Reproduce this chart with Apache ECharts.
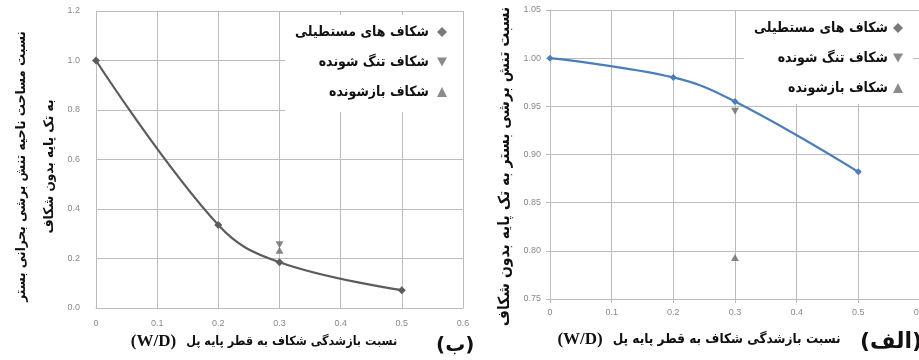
<!DOCTYPE html>
<html><head><meta charset="utf-8">
<script src="https://cdn.jsdelivr.net/npm/echarts@6/dist/echarts.min.js"></script>
<style>html,body{margin:0;padding:0;background:#fff}#c{width:919px;height:360px}</style>
</head><body><div id="c"></div><script>
// ---- data ----
const wdRatio = [0, 0.2, 0.3, 0.5];
const wdVariable = [0.3];
// left chart (ب): critical shear stress area ratio
const areaRect = [1.0, 0.335, 0.185, 0.072];
const areaNarrowing = [0.256];
const areaOpening = [0.233];
// right chart (الف): bed shear stress ratio
const stressRect = [1.0, 0.98, 0.955, 0.882];
const stressNarrowing = [0.945];
const stressOpening = [0.793];

const seriesNames = ['شکاف های مستطیلی', 'شکاف تنگ شونده', 'شکاف بازشونده'];
const xTicks = [0, 0.1, 0.2, 0.3, 0.4, 0.5, 0.6];
const yTicksLeft = [0, 0.2, 0.4, 0.6, 0.8, 1.0, 1.2];
const yTicksRight = [0.75, 0.80, 0.85, 0.90, 0.95, 1.00, 1.05];

const xNameLatin = '(W/D)';
const xNameFa = 'نسبت بازشدگی شکاف به قطر پایه پل';
const yNameLeft = 'نسبت مساحت ناحیه تنش برشی بحرانی بستر\nبه تک پایه بدون شکاف';
const yNameRight = 'نسبت تنش برشی بستر به تک پایه بدون شکاف';
const panelLeft = '(ب)';
const panelRight = '(الف)';

// ---- chart ----
const faFont = '"DejaVu Sans Condensed", "DejaVu Sans"';
const gridColor = '#bcbcbc';
const tickFont = {fontSize: 9, color: '#8a8a8a', fontFamily: 'Liberation Sans'};
const downTri = 'path://M0,0L10,0L5,9Z';
const zip = (xs, ys) => ys.map((y, i) => [xs[i], y]);

function xAxisCfg(gi, ticks, labelMargin, gap, shift, faSize) {
  return {
    type: 'value', gridIndex: gi, min: xTicks[0], max: xTicks[xTicks.length - 1], interval: 0.1,
    axisLine: {show: true, lineStyle: {color: gridColor}},
    axisTick: {show: ticks, length: 4, lineStyle: {color: gridColor}},
    splitLine: {show: true, lineStyle: {color: gridColor, width: 1}},
    axisLabel: Object.assign({margin: labelMargin, formatter: v => v === 0 ? '0' : v.toFixed(1)}, tickFont),
    name: '{lat|' + xNameLatin + '}   {fa|' + xNameFa + '}', nameLocation: 'middle', nameGap: gap,
    nameTextStyle: {
      color: '#111', padding: [0, shift, 0, 0],
      rich: {
        lat: {fontFamily: 'Liberation Serif', fontWeight: 'bold', fontSize: 17, color: '#111'},
        fa: {fontFamily: faFont, fontWeight: 'bold', fontSize: faSize, color: '#111'}
      }
    }
  };
}
function legendCfg(right, top, pad, textPad) {
  return {
    orient: 'vertical', align: 'right', right: right, top: top,
    backgroundColor: '#fff', padding: pad,
    itemWidth: 10, itemHeight: 10, itemGap: 12,
    textStyle: {fontFamily: faFont, fontWeight: 'bold', fontSize: 14, color: '#111', lineHeight: 18, padding: [0, textPad, 0, 0]},
    data: [
      {name: seriesNames[0], icon: 'diamond', itemStyle: {color: '#7a7a7a'}},
      {name: seriesNames[1], icon: downTri, itemStyle: {color: '#6e6e6e'}},
      {name: seriesNames[2], icon: 'triangle', itemStyle: {color: '#6e6e6e'}}
    ]
  };
}

const chart = echarts.init(document.getElementById('c'), null, {renderer: 'canvas'});
chart.setOption({
  backgroundColor: '#fff',
  animation: false,
  grid: [
    {left: 96, top: 11, width: 367, height: 297, outerBoundsMode: 'none', containLabel: false},
    {left: 550, top: 10, width: 370, height: 289, outerBoundsMode: 'none', containLabel: false}
  ],
  xAxis: [xAxisCfg(0, false, 11, 21, 31, 12.5), xAxisCfg(1, true, 9, 32, 72, 13.5)],
  yAxis: [
    {
      type: 'value', gridIndex: 0, min: yTicksLeft[0], max: yTicksLeft[yTicksLeft.length - 1], interval: 0.2,
      axisLine: {show: true, lineStyle: {color: gridColor}},
      axisTick: {show: false},
      splitLine: {show: true, lineStyle: {color: gridColor}},
      axisLabel: Object.assign({margin: 16, formatter: v => v.toFixed(1)}, tickFont),
      name: yNameLeft, nameLocation: 'middle', nameGap: 29,
      nameTextStyle: {fontFamily: faFont, fontWeight: 'bold', fontSize: 13.5, color: '#111', lineHeight: 28, padding: [0, 14, 0, 0]}
    },
    {
      type: 'value', gridIndex: 1, min: yTicksRight[0], max: yTicksRight[yTicksRight.length - 1], interval: 0.05,
      axisLine: {show: true, lineStyle: {color: gridColor}},
      axisTick: {show: true, length: 4, lineStyle: {color: gridColor}},
      splitLine: {show: true, lineStyle: {color: gridColor}},
      axisLabel: Object.assign({margin: 9, formatter: v => v.toFixed(2)}, tickFont),
      name: yNameRight, nameLocation: 'middle', nameGap: 36,
      nameTextStyle: {fontFamily: faFont, fontWeight: 'bold', fontSize: 15.5, color: '#111', lineHeight: 18, padding: [0, 24, 0, 0]}
    }
  ],
  legend: [
    legendCfg(456, 15, [8, 16, 11, 10], 3),
    legendCfg(6, 11, [8, 10, 7, 10], 0)
  ],
  graphic: [
    {type: 'text', left: 436, top: 336, style: {text: panelLeft, font: 'bold 20px "DejaVu Sans"', fill: '#111'}},
    {type: 'text', left: 860, top: 331, style: {text: panelRight, font: 'bold 22px "DejaVu Sans"', fill: '#111'}}
  ],
  series: [
    {name: seriesNames[0], type: 'line', xAxisIndex: 0, yAxisIndex: 0, data: zip(wdRatio, areaRect),
      smooth: 0.4, symbol: 'diamond', symbolSize: 8, showAllSymbol: true,
      lineStyle: {color: '#5c5c5c', width: 2.2}, itemStyle: {color: '#5c5c5c'}},
    {name: seriesNames[1], type: 'scatter', xAxisIndex: 0, yAxisIndex: 0, data: zip(wdVariable, areaNarrowing),
      symbol: downTri, symbolSize: [8, 7], itemStyle: {color: '#6a6a6a'}},
    {name: seriesNames[2], type: 'scatter', xAxisIndex: 0, yAxisIndex: 0, data: zip(wdVariable, areaOpening),
      symbol: 'triangle', symbolSize: [8, 7], itemStyle: {color: '#6a6a6a'}},
    {name: seriesNames[0], type: 'line', xAxisIndex: 1, yAxisIndex: 1, data: zip(wdRatio, stressRect),
      smooth: 0.4, symbol: 'diamond', symbolSize: 7, showAllSymbol: true,
      lineStyle: {color: '#4a7ebb', width: 2.2}, itemStyle: {color: '#4a7ebb'}},
    {name: seriesNames[1], type: 'scatter', xAxisIndex: 1, yAxisIndex: 1, data: zip(wdVariable, stressNarrowing),
      symbol: downTri, symbolSize: [8, 7], itemStyle: {color: '#6a6a6a'}},
    {name: seriesNames[2], type: 'scatter', xAxisIndex: 1, yAxisIndex: 1, data: zip(wdVariable, stressOpening),
      symbol: 'triangle', symbolSize: [8, 7], itemStyle: {color: '#6a6a6a'}}
  ]
});
</script></body></html>
